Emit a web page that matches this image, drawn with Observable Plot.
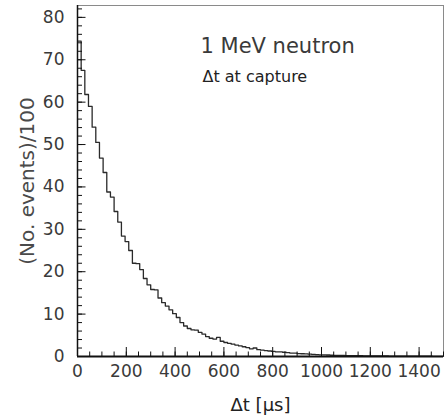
<!DOCTYPE html>
<html>
<head>
<meta charset="utf-8">
<script src="https://cdn.jsdelivr.net/npm/d3@7"></script>
<script src="https://cdn.jsdelivr.net/npm/@observablehq/plot@0.6"></script>
<style>
  html, body { margin: 0; padding: 0; background: #fff; }
  #chart svg { display: block; }
</style>
</head>
<body>
<div id="chart"></div>
<script>
// Histogram: 100 bins of 15 µs from 0 to 1500 µs; values are (No. events)/100
const binWidth = 15;
const binCounts = [
  74.4, 67.5, 61.8, 59.0, 54.1, 50.5, 46.8, 43.4, 38.8, 37.6,
  34.2, 31.7, 28.4, 27.1, 25.0, 22.0, 21.9, 20.5, 18.4, 16.9,
  15.8, 15.7, 13.8, 12.7, 11.9, 11.0, 10.1, 9.2, 8.0, 7.2,
  6.6, 6.3, 6.2, 5.7, 5.3, 4.7, 4.3, 4.1, 4.5, 3.6,
  3.3, 3.1, 2.9, 2.7, 2.5, 2.3, 2.1, 1.8, 2.0, 1.6,
  1.5, 1.4, 1.3, 1.2, 1.1, 1.1, 1.0, 0.9, 0.8, 0.8,
  0.7, 0.65, 0.6, 0.55, 0.5, 0.45, 0.4, 0.38, 0.35, 0.3,
  0.28, 0.26, 0.25, 0.23, 0.22, 0.2, 0.19, 0.18, 0.17, 0.16,
  0.15, 0.14, 0.13, 0.12, 0.12, 0.11, 0.1, 0.1, 0.09, 0.09,
  0.08, 0.08, 0.07, 0.07, 0.06, 0.06, 0.06, 0.05, 0.05, 0.05
];
const xMajorTicks = [0, 200, 400, 600, 800, 1000, 1200, 1400];
const xMinorTicks = d3.range(0, 1501, 50);
const yMajorTicks = [0, 10, 20, 30, 40, 50, 60, 70, 80];
const yMinorTicks = d3.range(0, 83, 2);
const xDomain = [0, 1500];
const yDomain = [0, 82.8];
const titleText = "1 MeV neutron";
const subtitleText = "Δt at capture";
const xLabel = "Δt [μs]";
const yLabel = "(No. events)/100";

const steps = binCounts.map((c, i) => ({x: i * binWidth, y: c}));
steps.push({x: binCounts.length * binWidth, y: binCounts[binCounts.length - 1]});

const textColor = "#3a3a3a";
const font = "DejaVu Sans";

const plot = Plot.plot({
  width: 445,
  height: 420,
  marginLeft: 77,
  marginRight: 2,
  marginTop: 5,
  marginBottom: 64,
  style: {fontFamily: font, background: "#fff", color: textColor},
  x: {domain: xDomain},
  y: {domain: yDomain},
  marks: [
    Plot.frame({stroke: "#8a8a8a", strokeWidth: 1}),
    Plot.line(steps, {x: "x", y: "y", curve: "step-after", stroke: "#2a2a2a", strokeWidth: 1.3}),
    // y axis: inward ticks
    Plot.axisY(yMinorTicks, {tickSize: -5, fill: "none", stroke: "#111", label: null}),
    Plot.axisY(yMajorTicks, {tickSize: -8.5, fill: "none", stroke: "#111", label: null}),
    Plot.axisY(yMajorTicks, {tickSize: 0, tickPadding: 13, fontSize: 17, fill: textColor,
      tickFormat: d3.format("d"), label: null}),
    // x axis: inward ticks
    Plot.axisX(xMinorTicks, {tickSize: -4.5, fill: "none", stroke: "#111", label: null}),
    Plot.axisX(xMajorTicks, {tickSize: -9, fill: "none", stroke: "#111", label: null}),
    Plot.axisX(xMajorTicks, {tickSize: 0, tickPadding: 8, fontSize: 17, fill: textColor,
      tickFormat: d3.format("d"), label: null}),
    Plot.ruleX([0], {stroke: "#111", strokeWidth: 1.5}),
    Plot.ruleY([0], {stroke: "#111", strokeWidth: 2}),
    // axis titles
    Plot.text([yLabel], {frameAnchor: "left", dx: -50, rotate: -90, text: d => d,
      fontSize: 20, fill: "#4a4a4a", textAnchor: "middle", lineAnchor: "middle"}),
    Plot.text([xLabel], {frameAnchor: "bottom", dy: 54, text: d => d,
      fontSize: 18, fill: "#222", textAnchor: "middle", lineAnchor: "bottom"}),
    // annotations
    Plot.text([titleText], {frameAnchor: "top-left", dx: 123, dy: 33, text: d => d,
      fontSize: 21, fill: textColor, textAnchor: "start", lineAnchor: "top"}),
    Plot.text([subtitleText], {frameAnchor: "top-left", dx: 125, dy: 65, text: d => d,
      fontSize: 16, fill: "#222", textAnchor: "start", lineAnchor: "top"})
  ]
});
document.getElementById("chart").appendChild(plot);
</script>
</body>
</html>
